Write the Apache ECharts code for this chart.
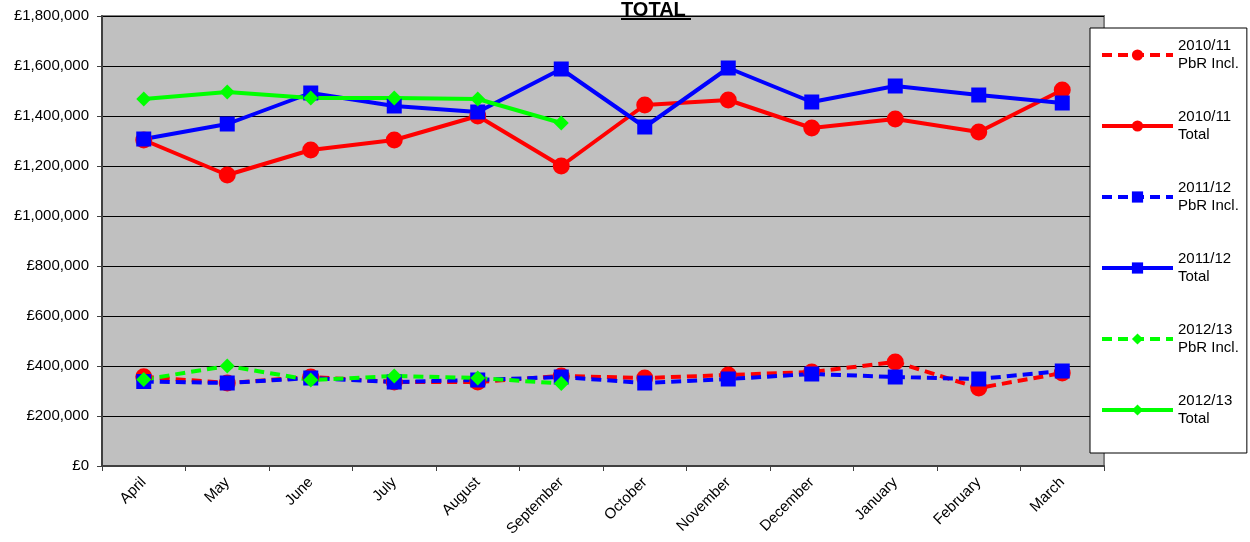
<!DOCTYPE html>
<html>
<head>
<meta charset="utf-8">
<script src="https://cdn.jsdelivr.net/npm/echarts@6/dist/echarts.min.js"></script>
<style>
  html, body { margin: 0; padding: 0; background: #fff; }
  #chart { width: 1250px; height: 542px; }
</style>
</head>
<body>
<div id="chart"></div>
<script>
// months of the financial year
const months = ['April', 'May', 'June', 'July', 'August', 'September',
  'October', 'November', 'December', 'January', 'February', 'March'];

// 2010/11
const pbr1011 = [357000, 332000, 356000, 336000, 336000, 360000, 352000, 364000, 376000, 416000, 312000, 372000];
const total1011 = [1304000, 1164000, 1264000, 1304000, 1400000, 1200000, 1444000, 1464000, 1352000, 1388000, 1336000, 1504000];
// 2011/12
const pbr1112 = [338000, 332000, 352000, 336000, 344000, 356000, 332000, 348000, 368000, 356000, 348000, 380000];
const total1112 = [1308000, 1368000, 1492000, 1440000, 1416000, 1588000, 1356000, 1592000, 1456000, 1520000, 1484000, 1452000];
// 2012/13 (only up to September)
const pbr1213 = [346000, 400000, 344000, 360000, 352000, 330000, null, null, null, null, null, null];
const total1213 = [1468000, 1496000, 1472000, 1472000, 1468000, 1372000, null, null, null, null, null, null];

const yTicks = [0, 200000, 400000, 600000, 800000, 1000000, 1200000, 1400000, 1600000, 1800000];

const font = 'Arial, "Liberation Sans", sans-serif';

function mkSeries(name, data, color, symbol, size, dashed) {
  return {
    name: name,
    type: 'line',
    data: data,
    symbol: symbol,
    symbolSize: size,
    connectNulls: false,
    itemStyle: { color: color },
    lineStyle: { color: color, width: 4, type: dashed ? [10, 6] : 'solid' },
    emphasis: { disabled: true },
    animation: false
  };
}

const chart = echarts.init(document.getElementById('chart'));

chart.setOption({
  animation: false,
  title: {
    text: 'TOTAL',
    left: 621,
    top: 0,
    padding: 0,
    textStyle: { fontFamily: font, fontSize: 20, fontWeight: 'bold', color: '#000' }
  },
  graphic: [{
    type: 'line',
    shape: { x1: 621, y1: 19, x2: 691, y2: 19 },
    style: { stroke: '#000', lineWidth: 2 },
    z: 100
  }],
  grid: {
    left: 102,
    right: 146,
    top: 16,
    bottom: 76,
    show: true,
    backgroundColor: '#c0c0c0',
    borderColor: '#808080',
    borderWidth: 2
  },
  legend: {
    orient: 'vertical',
    left: 1090,
    top: 28,
    padding: [0, 8, 16, 10],
    itemGap: 17,
    itemWidth: 71,
    itemHeight: 14,
    backgroundColor: '#fff',
    borderColor: '#000',
    borderWidth: 1,
    lineStyle: { width: 4 },
    formatter: function (name) { return name.replace(' ', '\n'); },
    textStyle: { fontFamily: font, fontSize: 15, color: '#000', lineHeight: 18, padding: [18, 0, 0, 0] },
    data: ['2010/11 PbR Incl.', '2010/11 Total', '2011/12 PbR Incl.', '2011/12 Total', '2012/13 PbR Incl.', '2012/13 Total']
  },
  xAxis: {
    type: 'category',
    data: months,
    boundaryGap: true,
    axisLine: { lineStyle: { color: '#404040', width: 2 } },
    axisTick: { show: true, length: 5, lineStyle: { color: '#404040' } },
    axisLabel: { rotate: 45, margin: 14, fontFamily: font, fontSize: 15, color: '#000', interval: 0 },
    splitLine: { show: false }
  },
  yAxis: {
    type: 'value',
    min: yTicks[0],
    max: yTicks[yTicks.length - 1],
    interval: 200000,
    axisLine: { show: true, lineStyle: { color: '#404040', width: 2 } },
    axisTick: { show: true, length: 5, lineStyle: { color: '#404040' } },
    axisLabel: {
      margin: 13,
      fontFamily: font, fontSize: 15, color: '#000',
      formatter: function (v) { return '£' + v.toLocaleString('en-GB'); }
    },
    splitLine: { show: true, lineStyle: { color: '#000', width: 1 } }
  },
  series: [
    mkSeries('2010/11 PbR Incl.', pbr1011, '#ff0000', 'circle', 17, true),
    mkSeries('2010/11 Total', total1011, '#ff0000', 'circle', 17, false),
    mkSeries('2011/12 PbR Incl.', pbr1112, '#0000ff', 'rect', 15, true),
    mkSeries('2011/12 Total', total1112, '#0000ff', 'rect', 15, false),
    mkSeries('2012/13 PbR Incl.', pbr1213, '#00ff00', 'diamond', 15, true),
    mkSeries('2012/13 Total', total1213, '#00ff00', 'diamond', 15, false)
  ]
});
</script>
</body>
</html>
